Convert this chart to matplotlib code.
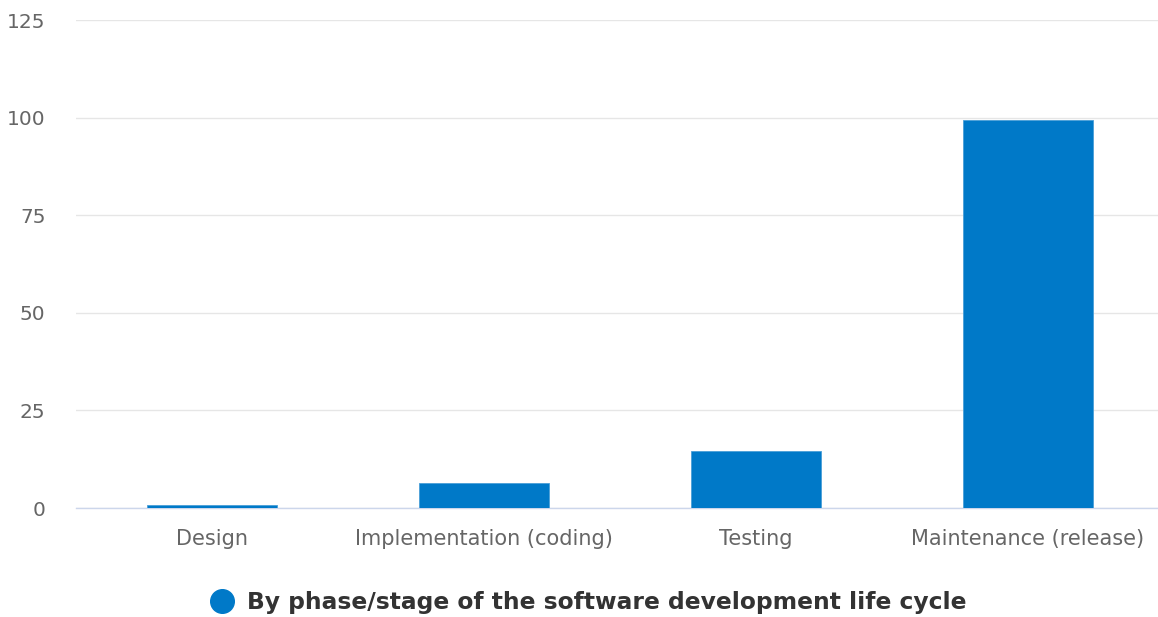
import matplotlib
matplotlib.use("Agg")
import matplotlib.pyplot as plt
from matplotlib.lines import Line2D

# data
phases = ["Design", "Implementation (coding)", "Testing", "Maintenance (release)"]
values = [0.8, 6.3, 14.6, 99.5]
y_ticks = [0, 25, 50, 75, 100, 125]
series_name = "By phase/stage of the software development life cycle"

bar_color = "#0079c8"

fig = plt.figure(figsize=(11.58, 6.17), dpi=100)
ax = fig.add_axes([76 / 1158, 1 - 508 / 617, (1164 - 76) / 1158, (508 - 20) / 617])

x = range(len(phases))
ax.bar(x, values, width=0.478, color=bar_color, edgecolor="#4a9fd8", linewidth=0.6, zorder=3)

ax.set_xlim(-0.5, len(phases) - 0.5)
ax.set_ylim(0, 125)
ax.set_yticks(y_ticks)
ax.set_xticks(list(x))
ax.set_xticklabels(phases, fontsize=15)
ax.set_yticklabels([str(t) for t in y_ticks], fontsize=14.5)

ax.grid(axis="y", color="#e6e6e6", linewidth=1, zorder=0)
for s in ["top", "right", "left"]:
    ax.spines[s].set_visible(False)
ax.spines["bottom"].set_color("#ccd6eb")
ax.spines["bottom"].set_linewidth(1)

ax.tick_params(axis="both", length=0, labelcolor="#666666")
ax.tick_params(axis="y", pad=22)
ax.tick_params(axis="x", pad=15)

handle = Line2D([], [], marker="o", linestyle="none", markersize=17,
                markerfacecolor=bar_color, markeredgecolor=bar_color)
fig.legend([handle], [series_name], loc="center", bbox_to_anchor=(0.507, 1 - 603 / 617),
           frameon=False, handletextpad=0.47, handlelength=1.2,
           prop={"size": 16.8, "weight": "bold"}, labelcolor="#333333")

fig.savefig("out.png", dpi=100)
